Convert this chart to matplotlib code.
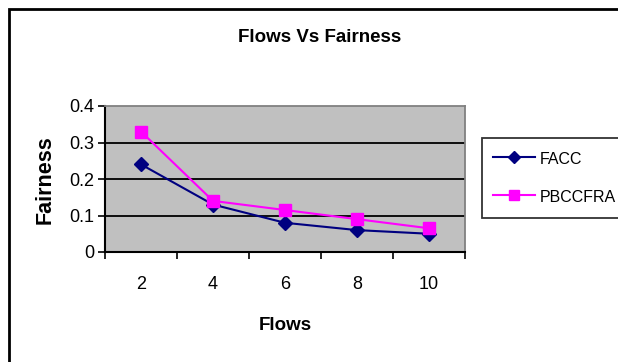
import numpy as np
import matplotlib
matplotlib.use("Agg")
import matplotlib.pyplot as plt
from matplotlib.patches import Rectangle

plt.rcParams['font.family'] = ['Liberation Sans', 'DejaVu Sans']

flows = ['2', '4', '6', '8', '10']
facc = [0.24, 0.13, 0.08, 0.06, 0.05]
pbccfra = [0.33, 0.14, 0.115, 0.09, 0.065]

W, H = 618, 362
fig = plt.figure(figsize=(W / 100, H / 100), dpi=100)

# outer chart border (runs off the right and bottom edges)
fig.patches.append(Rectangle((9 / W, -0.2), 1.5, 1 - 9 / H + 0.2,
                             transform=fig.transFigure, fill=False,
                             edgecolor='black', linewidth=2))

ax = fig.add_axes([105 / W, 1 - 252 / H, 360 / W, 146 / H])
ax.set_facecolor('#C0C0C0')

x = np.arange(len(flows))
ax.plot(x, facc, color='#000080', marker='D', markersize=7, linewidth=1.5,
        label='FACC', zorder=3)
ax.plot(x, pbccfra, color='#FF00FF', marker='s', markersize=8, linewidth=1.5,
        label='PBCCFRA', zorder=4)

ax.set_xlim(-0.5, len(flows) - 0.5)
ax.set_ylim(0, 0.4)
ax.set_yticks([0, 0.1, 0.2, 0.3, 0.4])
ax.set_yticklabels(['0', '0.1', '0.2', '0.3', '0.4'])
for yv in [0.1, 0.2, 0.3]:
    ax.axhline(yv, color='black', linewidth=1.3, zorder=1)

# category ticks sit between the categories, labels at the centres
ax.set_xticks(np.arange(-0.5, len(flows), 1.0))
ax.set_xticklabels([])
ax.set_xticks(x, minor=True)
ax.set_xticklabels(flows, minor=True)
ax.tick_params(axis='x', which='major', direction='out', length=5, width=1.2)
ax.tick_params(axis='x', which='minor', length=0, pad=17, labelsize=13)
ax.tick_params(axis='y', direction='out', length=5, width=1.2, pad=3,
               labelsize=13)

for side in ['top', 'right']:
    ax.spines[side].set_color('#808080')
    ax.spines[side].set_linewidth(1.3)
for side in ['bottom', 'left']:
    ax.spines[side].set_color('black')
    ax.spines[side].set_linewidth(1.5)

fig.text(320 / W, 1 - 38 / H, 'Flows Vs Fairness', ha='center', va='center',
         fontsize=13.5, fontweight='bold')
fig.text(285 / W, 1 - 325 / H, 'Flows', ha='center', va='center',
         fontsize=13.5, fontweight='bold')
fig.text(45 / W, 1 - 180 / H, 'Fairness', ha='center', va='center',
         rotation=90, fontsize=15.5, fontweight='bold')

leg = fig.legend(loc='upper left', bbox_to_anchor=(482 / W, 1 - 138 / H),
                 fontsize=11.5, frameon=True, fancybox=False, markerscale=0.85,
                 handlelength=2.6, handleheight=1.5, handletextpad=0.3,
                 labelspacing=1.15, borderpad=0.7, borderaxespad=0)
leg.get_frame().set_edgecolor('black')
leg.get_frame().set_linewidth(1.3)

fig.savefig('out.png', dpi=100)
